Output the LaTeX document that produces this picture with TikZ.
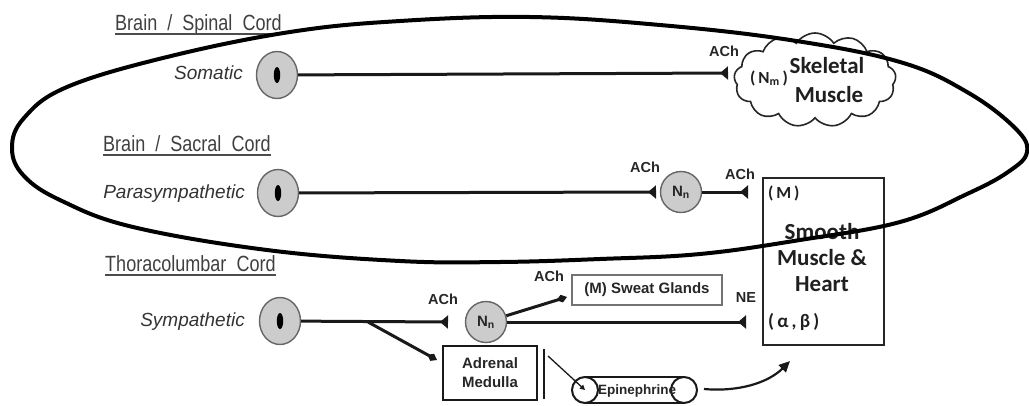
\documentclass[tikz,border=0pt]{standalone}
\usepackage{fontspec}
\setmainfont{Liberation Sans}
\newfontfamily\headfont{Liberation Sans}[FakeStretch=0.82]
\newfontfamily\calfont{Carlito}
\usetikzlibrary{shapes.geometric,shapes.symbols,arrows.meta}

\begin{document}
\begin{tikzpicture}[x=1pt,y=-1pt,
  heading/.style={font=\headfont\fontsize{22}{24}\selectfont, text=black!75, inner sep=0pt, anchor=base west},
  rowlabel/.style={font=\itshape\fontsize{19}{22}\selectfont, text=black!80, inner sep=0pt, anchor=base east},
  soma/.style={ellipse, draw=black!60, line width=1.4pt, fill=black!20, minimum width=41pt, minimum height=47pt, inner sep=0pt,
    path picture={\fill[black] (path picture bounding box.center) ellipse [x radius=3.2pt, y radius=8pt];}},
  gang/.style={circle, draw=black!60, line width=1.4pt, fill=black!20, minimum size=41pt, inner sep=0pt, font=\bfseries\fontsize{15}{16}\selectfont, text=black!85},
  axon/.style={line width=3pt, draw=black!90},
  syn/.style={-{Triangle[reversed, length=8pt, width=13pt]}},
  gland/.style={-{Diamond[length=11pt, width=8pt]}},
  nt/.style={font=\bfseries\fontsize{14.5}{16}\selectfont, text=black!85, inner sep=0pt},
  organ/.style={font=\calfont\bfseries\fontsize{23}{26}\selectfont, text=black!88, inner sep=0pt},
  small/.style={font=\bfseries\fontsize{15}{19}\selectfont, text=black!85, inner sep=0pt, align=center}
]
\useasboundingbox (0,0) rectangle (1029,405);

% ---------- section headings ----------
\node[heading] (h1) at (115,30) {Brain\ \ /\ \ Spinal\ \ Cord};
\node[heading] (h2) at (103,151) {Brain\ \ /\ \ Sacral\ \ Cord};
\node[heading] (h3) at (105,271) {Thoracolumbar\ \ Cord};
\foreach \h in {h1,h2,h3}
  \draw[line width=1.8pt, black!70] ([yshift=-4pt]\h.base west) -- ([yshift=-4pt]\h.base east);

% ---------- row labels and cell bodies ----------
\node[rowlabel] (l1) at (243,79) {Somatic};
\node[rowlabel] (l2) at (245,198) {Parasympathetic};
\node[rowlabel] (l3) at (245,326) {Sympathetic};

\node[soma] (s1) at (277,75) {};
\node[soma] (s2) at (278,193) {};
\node[soma] (s3) at (280,321) {};

% ---------- somatic pathway ----------
\node[cloud, draw=black!85, line width=1.6pt, cloud puffs=13, cloud puff arc=115, cloud ignores aspect,
      minimum width=162pt, minimum height=94pt] (cl) at (815,80) {};
\node[organ, font=\calfont\bfseries\fontsize{17}{20}\selectfont] (nm) at (769,78) {(\,N\textsubscript{m}\,)};
\node[organ] (skel) at (827,66) {Skeletal};
\node[organ] (musc) at (829,95) {Muscle};
\coordinate (t1) at (728,73);
\draw[axon, syn] (s1) -- (t1);
\node[nt] (a1) at (724,51) {ACh};

% ---------- parasympathetic pathway ----------
\node[gang] (n2) at (681,192) {N\textsubscript{n}};
\coordinate (t2) at (656,192);
\coordinate (t3) at (748,192);
\draw[axon, syn] (s2) -- (t2);
\draw[axon, syn] (n2) -- (t3);
\node[nt] (a2) at (645,167) {ACh};
\node[nt] (a3) at (740,174) {ACh};

% smooth muscle & heart
\node[draw=black!85, line width=2pt, minimum width=121pt, minimum height=167pt, inner sep=0pt] (sm) at (823.5,261.5) {};
\node[organ, font=\calfont\bfseries\fontsize{17}{20}\selectfont, anchor=west] (mr) at (768,193) {(\,M\,)};
\node[organ, align=center] (smt) at (822,258) {Smooth\\Muscle \&\\Heart};
\node[organ, font=\calfont\bfseries\fontsize{19}{22}\selectfont, anchor=west] (ab) at (768,322) {(\,α\,,\,β\,)};

% ---------- sympathetic pathway ----------
\node[gang] (n3) at (486,322) {N\textsubscript{n}};
\coordinate (t4) at (448,322);
\coordinate (br) at (368,322);
\coordinate (t5) at (437,360);
\draw[axon, syn] (s3) -- (t4);
\draw[axon, gland] (br) -- (t5);
\node[nt] (a4) at (443,299) {ACh};

\node[draw=black!55, line width=1.3pt, minimum width=150pt, minimum height=30pt, inner sep=0pt,
      font=\bfseries\fontsize{15}{16}\selectfont, text=black!85] (sw) at (647,290) {(M) Sweat Glands};
\coordinate (t6) at (567,297);
\draw[axon, gland] (n3) -- (t6);
\node[nt] (a5) at (549,276) {ACh};

\coordinate (t7) at (746,322);
\draw[axon, syn] (n3) -- (t7);
\node[nt] (ne) at (746,298) {NE};

% adrenal medulla and circulating epinephrine
\node[draw=black!90, line width=2pt, minimum width=94pt, minimum height=54pt, inner sep=0pt, small] (am) at (490,373) {Adrenal\\Medulla};
\draw[line width=2pt, black!90] ([xshift=6pt,yshift=-4pt]am.north east) -- ([xshift=6pt,yshift=2pt]am.south east);

\coordinate (cL) at (585,390);
\coordinate (cR) at (684,390);
\draw[line width=2pt, black!90] (585,377) -- (684,377) (585,403) -- (684,403);
\draw[line width=2pt, black!90, fill=white] (cL) circle[radius=13pt];
\draw[line width=2pt, black!90, fill=white] (cR) circle[radius=13pt];
\node[font=\bfseries\fontsize{13.5}{15}\selectfont, text=black!85, inner sep=0pt] (epi) at (637,391) {Epinephrine};

\coordinate (rel) at (548,356);
\draw[line width=1.3pt, black!90, -{Triangle[length=5pt, width=5pt]}] (rel) -- (cL);

\coordinate (cE) at (704,389);
\coordinate (tgt) at (790,361);
\draw[line width=2.2pt, black!90, -{Triangle[length=11pt, width=10pt]}] (cE) .. controls (738,392) and (768,383) .. (tgt);

% ---------- encircling outline ----------
\draw[line width=4pt, black] plot[smooth cycle, tension=0.65] coordinates {
  (12,148) (24,118) (67,87) (167,57) (290,32) (400,21) (530,17) (660,25)
  (790,40) (900,62) (967,92) (1015,128) (1027,152) (1008,172) (967,194)
  (900,222) (800,240) (700,254) (600,259) (500,262) (400,261) (267,250)
  (133,227) (62,201) (24,176)};
\end{tikzpicture}
\end{document}
